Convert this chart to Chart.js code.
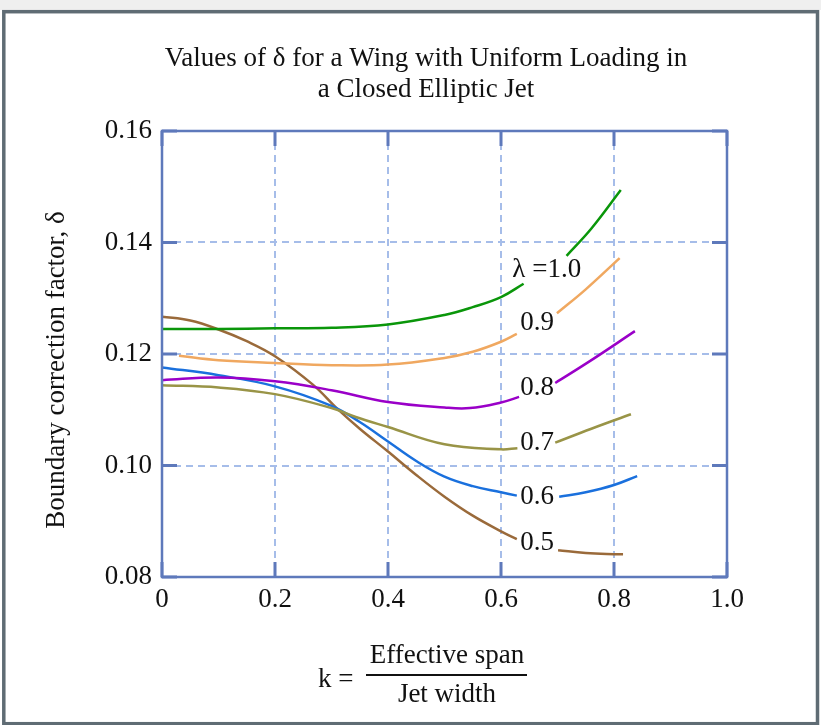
<!DOCTYPE html>
<html>
<head>
<meta charset="utf-8">
<script src="https://cdn.jsdelivr.net/npm/chart.js@4"></script>
<style>
  html, body { margin: 0; padding: 0; background: #ffffff; }
  #wrap { width: 821px; height: 725px; }
</style>
</head>
<body>
<div id="wrap"><canvas id="c" width="821" height="725"></canvas></div>
<script>
// ---- Data (k = effective span / jet width, delta = boundary correction factor)
const lambdaLabels = ['\u03BB =1.0', '0.9', '0.8', '0.7', '0.6', '0.5'];

// null marks the break in each curve where its label sits
const k10 = [0, 0.1, 0.2, 0.3, 0.4, 0.5, 0.55, 0.6, 0.64, 0.68, 0.716, 0.76, 0.812];
const d10 = [0.1245, 0.1245, 0.1246, 0.1247, 0.1253, 0.1270, 0.1284, 0.1302, 0.1326, null, 0.1376, 0.1425, 0.1494];

const k09 = [0.03, 0.1, 0.2, 0.3, 0.4, 0.5, 0.55, 0.6, 0.628, 0.66, 0.699, 0.75, 0.81];
const d09 = [0.1197, 0.1189, 0.1184, 0.1180, 0.1181, 0.1193, 0.1204, 0.1222, 0.1236, null, 0.1273, 0.1316, 0.1372];

const k08 = [0, 0.1, 0.2, 0.3, 0.4, 0.5, 0.545, 0.6, 0.632, 0.66, 0.696, 0.76, 0.837];
const d08 = [0.1153, 0.1158, 0.1151, 0.1135, 0.1114, 0.1104, 0.1103, 0.1113, 0.1123, null, 0.1148, 0.1189, 0.1241];

const k07 = [0, 0.1, 0.2, 0.3, 0.343, 0.4, 0.5, 0.6, 0.629, 0.66, 0.696, 0.76, 0.83];
const d07 = [0.1144, 0.1140, 0.1128, 0.1103, 0.1087, 0.1069, 0.1038, 0.1029, 0.1031, null, 0.1041, 0.1066, 0.1092];

const k06 = [0, 0.1, 0.2, 0.3, 0.35, 0.4, 0.45, 0.5, 0.55, 0.6, 0.628, 0.665, 0.703, 0.75, 0.8, 0.841];
const d06 = [0.1176, 0.1162, 0.1142, 0.1107, 0.1078, 0.1043, 0.1008, 0.0980, 0.0963, 0.0952, 0.0946, null, 0.0944, 0.0952, 0.0965, 0.0981];

const k05 = [0, 0.05, 0.1, 0.15, 0.2, 0.267, 0.31, 0.35, 0.4, 0.45, 0.5, 0.55, 0.6, 0.628, 0.665, 0.701, 0.75, 0.8, 0.816];
const d05 = [0.1267, 0.1260, 0.1244, 0.1223, 0.1196, 0.1145, 0.1102, 0.1066, 0.1025, 0.0983, 0.0944, 0.0910, 0.0882, 0.0868, null, 0.0848, 0.0843, 0.0841, 0.0841];

// label anchor points (data coordinates) for the curve labels
const labelK     = [0.681, 0.664, 0.664, 0.664, 0.664, 0.664];
const labelDelta = [0.1351, 0.1256, 0.1139, 0.1040, 0.0943, 0.0861];

const xTicks = [0, 0.2, 0.4, 0.6, 0.8, 1.0];
const yTicks = [0.08, 0.10, 0.12, 0.14, 0.16];

const titleLines = ['Values of \u03B4 for a Wing with Uniform Loading in', 'a Closed Elliptic Jet'];
const yTitle = 'Boundary correction factor, \u03B4';

// ---- styles
const SERIF = '"Liberation Serif", "Times New Roman", serif';
const FS = 27;
const colors = ['#0a960a', '#f0a860', '#9a00c8', '#999447', '#1a70dd', '#9a6a3a'];
const AXIS = '#5e79bb';
const GRID = '#a6bde9';

const series = [[k10, d10], [k09, d09], [k08, d08], [k07, d07], [k06, d06], [k05, d05]];
const datasets = series.map((s, i) => ({
  label: lambdaLabels[i],
  data: s[0].map((x, j) => ({ x: x, y: s[1][j] })),
  borderColor: colors[i],
  borderWidth: 2.5,
  pointRadius: 0,
  fill: false,
  tension: 0.4,
  spanGaps: false
}));

const decor = {
  id: 'decor',
  beforeDraw(chart) {
    const ctx = chart.ctx;
    ctx.save();
    ctx.fillStyle = '#ffffff';
    ctx.fillRect(0, 0, chart.width, chart.height);
    ctx.fillStyle = '#efefef';
    ctx.fillRect(0, 0, chart.width, 10);
    ctx.strokeStyle = '#5f6c74';
    ctx.lineWidth = 3.5;
    ctx.strokeRect(3.8, 11.7, 813.7, 712);
    ctx.restore();
  },
  afterDraw(chart) {
    const ctx = chart.ctx;
    const a = chart.chartArea;
    const xs = chart.scales.x, ys = chart.scales.y;
    ctx.save();
    // frame
    ctx.strokeStyle = AXIS;
    ctx.lineWidth = 2.5;
    ctx.strokeRect(a.left, a.top, a.right - a.left, a.bottom - a.top);
    // inward ticks on all four sides
    const TL = 15;
    ctx.lineWidth = 3;
    ctx.beginPath();
    xTicks.forEach(v => {
      const px = xs.getPixelForValue(v);
      ctx.moveTo(px, a.bottom); ctx.lineTo(px, a.bottom - TL);
      ctx.moveTo(px, a.top); ctx.lineTo(px, a.top + TL);
    });
    yTicks.forEach(v => {
      const py = ys.getPixelForValue(v);
      ctx.moveTo(a.left, py); ctx.lineTo(a.left + TL, py);
      ctx.moveTo(a.right, py); ctx.lineTo(a.right - TL, py);
    });
    ctx.stroke();

    ctx.fillStyle = '#111111';
    ctx.font = FS + 'px ' + SERIF;
    ctx.textAlign = 'center';
    ctx.textBaseline = 'alphabetic';
    // title
    ctx.fillText(titleLines[0], 426, 66);
    ctx.fillText(titleLines[1], 426, 97);
    // curve labels
    ctx.textBaseline = 'middle';
    lambdaLabels.forEach((t, i) => {
      ctx.fillText(t, xs.getPixelForValue(labelK[i]), ys.getPixelForValue(labelDelta[i]));
    });
    // y axis title
    ctx.save();
    ctx.translate(57, 370);
    ctx.rotate(-Math.PI / 2);
    ctx.textBaseline = 'middle';
    ctx.fillText(yTitle, 0, 0);
    ctx.restore();
    // x axis title: k = Effective span / Jet width
    ctx.textBaseline = 'alphabetic';
    ctx.textAlign = 'left';
    ctx.fillText('k =', 318, 687);
    ctx.textAlign = 'center';
    ctx.fillText('Effective span', 447, 663);
    ctx.fillText('Jet width', 447, 702);
    ctx.strokeStyle = '#111111';
    ctx.lineWidth = 2;
    ctx.beginPath();
    ctx.moveTo(366, 675); ctx.lineTo(527, 675);
    ctx.stroke();
    ctx.restore();
  }
};

new Chart(document.getElementById('c'), {
  type: 'line',
  data: { datasets: datasets },
  options: {
    responsive: false,
    animation: false,
    events: [],
    layout: { padding: { left: 0, right: 94, top: 131, bottom: 0 } },
    plugins: { legend: { display: false }, tooltip: { enabled: false }, title: { display: false } },
    scales: {
      x: {
        type: 'linear',
        min: 0, max: 1,
        afterBuildTicks(scale) { scale.ticks = xTicks.map(v => ({ value: v })); },
        afterFit(scale) { scale.height = 148; },
        border: { display: false, dash: [7, 5] },
        grid: { color: GRID, lineWidth: 2, drawTicks: false },
        ticks: {
          padding: 7,
          color: '#111111',
          font: { family: SERIF, size: FS },
          maxRotation: 0,
          callback: v => (v === 0 ? '0' : v.toFixed(1))
        }
      },
      y: {
        type: 'linear',
        min: 0.08, max: 0.16,
        afterBuildTicks(scale) { scale.ticks = yTicks.map(v => ({ value: v })); },
        afterFit(scale) { scale.width = 162; },
        border: { display: false, dash: [7, 5] },
        grid: { color: GRID, lineWidth: 2, drawTicks: false },
        ticks: {
          padding: 10,
          color: '#111111',
          font: { family: SERIF, size: FS },
          callback: v => v.toFixed(2)
        }
      }
    }
  },
  plugins: [decor]
});
</script>
</body>
</html>
